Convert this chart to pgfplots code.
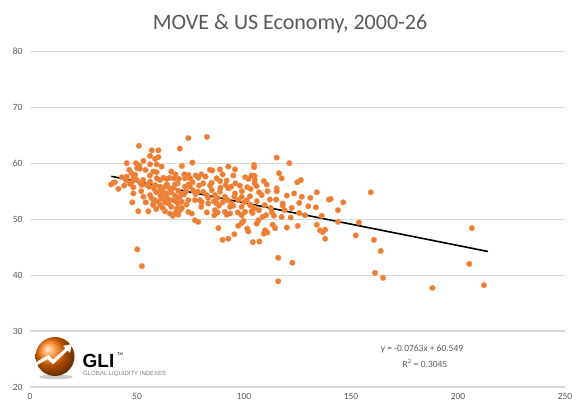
\documentclass[border=0pt]{standalone}
\usepackage{pgfplots}
\pgfplotsset{compat=1.18}
\usepackage{fontspec}
\setmainfont{Carlito}
\newfontfamily\arialf{Liberation Sans}
\definecolor{dots}{HTML}{ED7D31}
\definecolor{gridc}{HTML}{D9D9D9}
\definecolor{txt}{HTML}{595959}
\pgfplotstableread{
x y
140.5 53.6
146.4 53.0
143.9 51.6
159.2 54.8
143.9 49.5
153.7 49.4
137.9 48.1
137.9 46.5
152.2 47.1
160.7 46.3
163.9 44.3
161.2 40.4
165.0 39.5
188.0 37.7
206.5 48.4
205.3 42.0
212.1 38.2
115.3 61.0
121.2 60.0
104.7 59.7
104.7 59.3
116.4 58.2
117.6 57.3
105.0 57.7
105.0 57.0
105.0 56.4
105.9 55.9
109.3 56.8
110.6 56.2
115.3 55.5
115.3 55.0
124.9 56.6
126.6 57.0
123.4 54.6
134.0 54.8
139.7 53.5
108.3 54.3
112.1 53.5
102.8 54.1
103.0 52.6
105.0 52.0
107.0 51.6
104.0 51.1
109.7 52.5
112.5 52.0
118.1 52.8
118.1 52.4
122.3 52.0
125.8 52.9
130.0 52.3
133.6 52.1
136.3 50.6
128.5 50.7
125.8 51.1
121.8 50.3
117.6 50.4
114.0 50.6
110.3 50.7
108.7 50.4
106.7 49.8
105.9 49.2
113.4 49.0
114.5 48.4
109.8 48.0
110.9 47.6
109.3 47.4
120.0 48.5
125.1 48.8
134.0 49.0
135.5 48.0
136.8 47.7
104.1 45.9
107.2 46.0
116.0 43.1
122.6 42.2
116.0 38.9
74.0 64.5
82.7 64.7
70.0 62.6
75.9 60.1
84.1 58.8
85.2 58.7
92.7 59.4
95.8 58.9
88.8 58.9
72.1 58.0
74.0 57.9
74.8 57.3
72.4 57.3
77.4 57.8
78.6 57.4
69.6 57.2
69.0 56.4
74.0 56.2
74.8 55.8
72.4 55.8
84.1 56.0
84.9 56.5
87.2 57.3
88.8 56.8
91.9 56.9
91.4 56.1
95.0 57.8
100.5 57.5
102.0 57.2
103.6 57.8
98.1 56.0
101.5 55.7
103.1 55.4
88.8 54.9
92.7 55.5
95.8 54.6
95.5 54.0
69.3 55.1
70.9 54.5
67.8 54.2
76.3 55.1
77.4 54.5
78.4 54.9
81.0 54.9
82.6 54.3
83.3 53.8
86.4 54.3
87.7 53.8
91.1 54.0
92.4 53.4
98.9 54.0
97.3 53.4
101.3 53.4
100.1 53.0
67.8 53.4
69.3 52.8
70.9 53.1
74.0 53.4
73.2 52.6
77.1 53.4
79.4 53.4
80.2 53.0
83.3 52.8
87.2 52.8
88.3 52.4
94.2 52.8
95.0 52.4
93.5 52.2
98.9 52.2
102.8 52.5
104.4 51.9
103.6 51.4
68.6 51.9
70.1 51.6
67.8 51.0
74.0 51.3
75.6 51.0
77.1 49.8
78.6 49.5
82.6 51.2
86.4 51.6
87.7 51.2
86.1 50.7
91.1 51.3
91.9 50.8
93.5 51.0
97.1 51.2
98.9 50.7
100.5 51.3
88.0 48.4
97.3 48.8
98.9 49.3
99.7 49.7
102.0 47.8
101.5 48.3
90.0 46.3
92.7 46.5
95.5 47.3
50.9 63.1
56.9 62.3
60.0 62.3
56.1 61.3
58.4 60.8
60.0 61.1
45.2 60.0
49.5 60.0
51.0 59.6
50.1 59.1
51.4 59.0
56.1 59.8
59.2 59.8
61.5 59.4
46.4 58.8
47.5 58.2
49.1 57.9
48.3 57.3
45.2 57.6
44.9 57.0
57.6 58.5
59.2 58.4
38.9 56.5
37.9 56.2
41.3 55.4
39.7 56.6
46.7 56.3
48.3 55.7
47.5 56.6
49.9 57.0
51.4 56.5
52.9 57.0
52.2 56.1
54.5 56.1
56.1 56.7
55.7 55.8
59.2 57.3
60.7 57.0
62.3 57.4
63.9 57.2
65.4 57.4
67.3 57.3
58.4 56.1
60.7 55.8
63.1 55.8
65.4 55.5
67.8 56.2
48.3 54.6
56.1 54.3
56.9 53.7
58.4 53.4
57.6 52.8
60.0 53.1
61.5 53.7
62.3 54.2
63.9 53.8
65.4 53.4
64.6 52.8
67.0 53.4
68.6 53.0
47.8 53.0
54.1 53.0
50.6 51.4
55.3 51.4
57.6 52.5
60.7 52.5
63.1 51.4
65.4 51.0
66.7 50.6
68.2 51.2
69.3 50.8
50.1 44.6
52.3 41.6
62.0 55.0
64.0 54.6
66.0 54.8
59.0 54.8
61.0 55.2
70.0 54.0
72.0 54.4
73.0 55.0
66.0 52.2
62.0 52.0
59.0 51.8
71.0 52.0
80.0 52.2
81.0 56.4
79.0 56.0
76.0 56.6
85.0 55.2
86.0 53.2
90.0 53.0
89.0 55.6
94.0 55.8
96.0 56.4
99.0 55.0
106.0 53.2
107.0 54.8
111.0 55.0
113.0 51.2
119.0 51.6
120.0 54.2
127.0 54.0
131.0 53.8
115.0 53.5
53.0 54.0
52.0 55.0
44.0 56.0
43.0 57.5
56.0 57.8
54.0 58.8
53.0 60.4
66.0 58.5
68.0 58.0
71.0 59.5
80.0 58.0
82.0 57.6
90.0 58.0
63.0 53.0
61.0 54.2
67.0 55.6
69.0 53.8
64.0 56.2
58.0 55.4
}\movedata
\begin{document}
\begin{tikzpicture}
\useasboundingbox (0,0) rectangle (582pt,414pt);
\begin{axis}[
  at={(30pt,27pt)}, anchor=south west,
  scale only axis, width=535pt, height=335.7pt,
  xmin=0, xmax=250, ymin=20, ymax=80,
  xtick={0,50,100,150,200,250},
  ytick={20,30,40,50,60,70,80},
  ymajorgrids, major grid style={gridc, line width=1.1pt},
  axis line style={draw=none},
  major tick length=0pt,
  tick label style={font=\fontsize{9.5}{11}\selectfont, text=txt},
  /pgf/number format/assume math mode=true,
  yticklabel style={xshift=-4pt},
  xticklabel style={yshift=-3pt},
  clip=false,
]
\addplot[only marks, mark=*, mark size=2.8pt, mark options={fill=dots, draw=dots!85!white, line width=0.3pt}] table[x=x,y=y] {\movedata};
\addplot[black, line width=1.6pt] coordinates {(38,57.650) (214,44.221)};
\end{axis}
\node[font=\fontsize{22}{26}\selectfont, text=txt] at (290pt,390pt) {MOVE \& US Economy, 2000-26};
\node[font=\fontsize{9.5}{11}\selectfont, text=txt] at (422pt,65pt) {y = -0.0763x + 60.549};
\node[font=\fontsize{9.5}{11}\selectfont, text=txt] at (425pt,51pt) {R\textsuperscript{2} = 0.3045};
% logo
\fill[gray!40] (56pt,37pt) ellipse (17pt and 2.2pt);
\shade[ball color=orange!90!red] (55pt,57.5pt) circle (19.5pt);
\draw[white, line width=3.2pt, line join=miter] (36pt,50pt) -- (48pt,57pt) -- (53pt,52pt) -- (68pt,66pt);
\fill[white] (72pt,70pt) -- (63pt,68pt) -- (70pt,61pt) -- cycle;
\node[anchor=base west, font=\arialf\bfseries\fontsize{19}{22}\selectfont, text=black, inner sep=0pt] at (82.5pt,46pt) {GLI};
\node[anchor=base west, font=\arialf\fontsize{4}{5}\selectfont, text=black, inner sep=0pt] at (117pt,58pt) {TM};
\node[anchor=base west, font=\arialf\fontsize{6}{7}\selectfont, text=gray, inner sep=0pt] at (83pt,38pt) {GLOBAL LIQUIDITY INDEXES};
\end{tikzpicture}
\end{document}
